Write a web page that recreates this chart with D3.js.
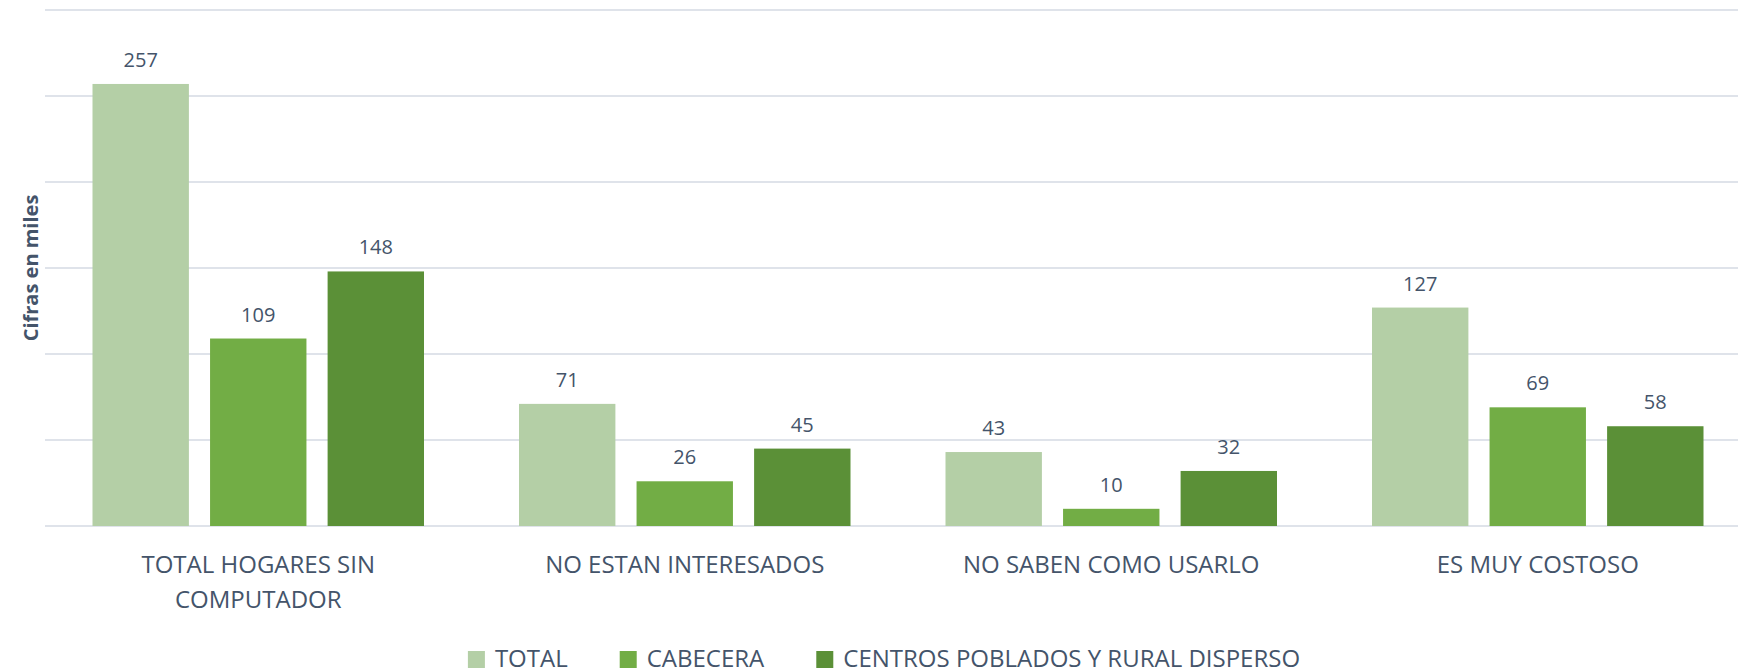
<!DOCTYPE html>
<html lang="es">
<head>
    <meta charset="UTF-8">
    <title>Hogares sin computador</title>
    <style>
        body{
            margin: 0;
            background: #fff;
        }
        svg{
            display: block;
            font-family: "Open Sans", sans-serif;
        }
    </style>
    <script src="https://cdn.jsdelivr.net/npm/d3@7/dist/d3.min.js"></script>
</head>
<body>
<svg id="svg_main"></svg>
<script>
    // data (cifras en miles)
    const categories = ["TOTAL HOGARES SIN COMPUTADOR", "NO ESTAN INTERESADOS", "NO SABEN COMO USARLO", "ES MUY COSTOSO"];
    const seriesNames = ["TOTAL", "CABECERA", "CENTROS POBLADOS Y RURAL DISPERSO"];
    const totalValues = [257, 71, 43, 127];
    const cabeceraValues = [109, 26, 10, 69];
    const centrosValues = [148, 45, 32, 58];
    const gridTicks = [0, 50, 100, 150, 200, 250, 300];
    const yTitle = "Cifras en miles";

    const colors = ["#b4cfa6", "#72ad45", "#5b9037"];
    const textColor = "#44546a";

    const width = 1738;
    const height = 671;
    const plot = {left: 45, right: 1751, top: 10, bottom: 526};

    const svg = d3.select('#svg_main')
        .attr('width', width)
        .attr('height', height)
        .attr('viewBox', [0, 0, width, height]);

    const valuesBySeries = [totalValues, cabeceraValues, centrosValues];
    const rows = categories.map((c, i) => ({
        category: c,
        values: seriesNames.map((s, j) => ({series: s, value: valuesBySeries[j][i]}))
    }));

    let x0 = d3.scaleBand().domain(categories).range([plot.left, plot.right]);
    let groupPad = 47.5;
    let x1 = d3.scaleBand().domain(seriesNames)
        .range([groupPad, x0.bandwidth() - groupPad]).paddingInner(0.18);
    let y = d3.scaleLinear().domain([0, 300]).range([plot.bottom, plot.top]);
    let color = d3.scaleOrdinal().domain(seriesNames).range(colors);

    // grid lines
    svg.append("g").selectAll("line")
        .data(gridTicks)
        .enter().append("line")
        .attr("x1", plot.left)
        .attr("x2", width)
        .attr("y1", d => y(d))
        .attr("y2", d => y(d))
        .attr("stroke", "#dfe3ea")
        .attr("stroke-width", 2);

    // bars
    let groups = svg.append("g").selectAll("g")
        .data(rows)
        .enter().append("g")
        .attr("transform", d => `translate(${x0(d.category)},0)`);

    groups.selectAll("rect")
        .data(d => d.values)
        .enter().append("rect")
        .attr("x", d => x1(d.series))
        .attr("width", x1.bandwidth())
        .attr("y", d => y(d.value))
        .attr("height", d => y(0) - y(d.value))
        .attr("fill", d => color(d.series));

    groups.selectAll("text")
        .data(d => d.values)
        .enter().append("text")
        .attr("x", d => x1(d.series) + x1.bandwidth() / 2)
        .attr("y", d => y(d.value) - 17)
        .attr("text-anchor", "middle")
        .attr("font-size", "20px")
        .attr("fill", textColor)
        .text(d => d.value);

    // category labels, wrapped
    svg.append("g").selectAll("text")
        .data(categories)
        .enter().append("text")
        .attr("x", d => x0(d) + x0.bandwidth() / 2)
        .attr("y", 573)
        .attr("text-anchor", "middle")
        .attr("font-size", "24px")
        .attr("fill", textColor)
        .each(function(d){
            let el = d3.select(this);
            let words = d.split(" ");
            let line = [];
            let tspan = el.append("tspan").attr("x", el.attr("x")).attr("dy", 0);
            words.forEach(w => {
                line.push(w);
                tspan.text(line.join(" "));
                if (tspan.node().getComputedTextLength() > 340 && line.length > 1) {
                    line.pop();
                    tspan.text(line.join(" "));
                    line = [w];
                    tspan = el.append("tspan").attr("x", el.attr("x")).attr("dy", 35).text(w);
                }
            });
        });

    // y axis title
    svg.append("text")
        .attr("transform", `translate(38,${(plot.top + plot.bottom) / 2}) rotate(-90)`)
        .attr("text-anchor", "middle")
        .attr("font-size", "20px")
        .attr("font-weight", "bold")
        .attr("fill", textColor)
        .text(yTitle);

    // legend
    let legend = svg.append("g");
    let xPos = 0;
    seriesNames.forEach((s, i) => {
        let item = legend.append("g").attr("transform", `translate(${xPos},0)`);
        item.append("rect")
            .attr("x", 0).attr("y", 651)
            .attr("width", 17).attr("height", 17)
            .attr("fill", color(s));
        let t = item.append("text")
            .attr("x", 27).attr("y", 667)
            .attr("font-size", "24px")
            .attr("fill", textColor)
            .text(s);
        xPos += 27 + t.node().getComputedTextLength() + 52;
    });
    let legendW = xPos - 52;
    legend.attr("transform", `translate(${884 - legendW / 2},0)`);
</script>
</body>
</html>
